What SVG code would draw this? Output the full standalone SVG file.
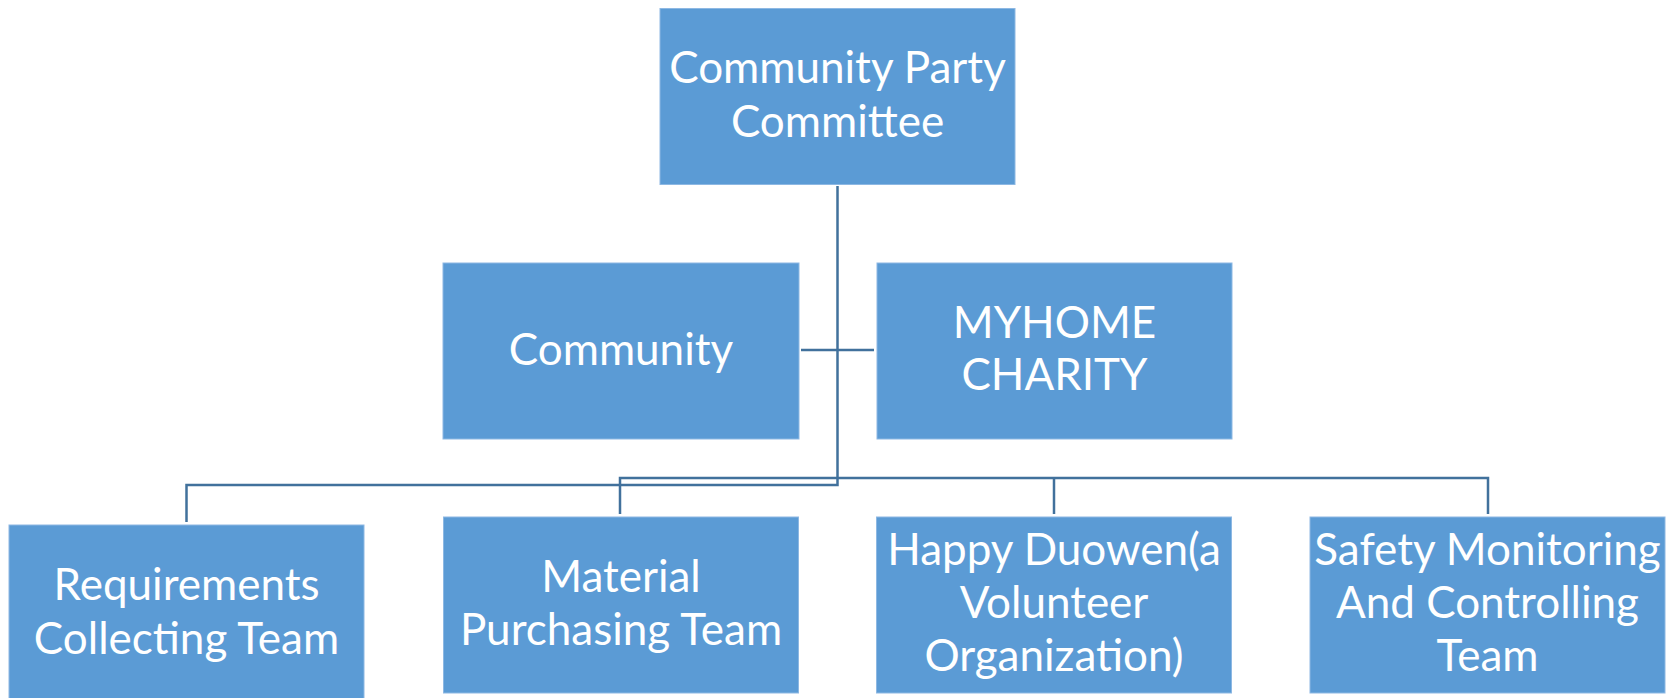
<svg xmlns="http://www.w3.org/2000/svg" width="1680" height="698" viewBox="0 0 1680 698">
<style>
.box{fill:#5B9BD5;stroke:#8DB8E3;stroke-width:1}
.t{fill:#FFFFFF;font-family:Lato,"Noto Sans","Liberation Sans",sans-serif;font-size:44px;text-anchor:middle}
.c{fill:none;stroke:#41719C;stroke-width:2.5}
</style>
<rect width="1680" height="698" fill="#FFFFFF"/>
<g id="connectors">
<polyline class="c" points="837.5,186 837.5,485 186.5,485 186.5,522"/>
<line class="c" x1="801" y1="350" x2="874" y2="350"/>
<polyline class="c" points="620,514 620,478 1488,478 1488,514"/>
<line class="c" x1="1054" y1="478" x2="1054" y2="514"/>
</g>
<g id="n-party">
<rect class="box" x="660" y="8.5" width="355" height="176"/>
<text class="t" x="837.5" y="83">Community Party</text>
<text class="t" x="837.5" y="137">Committee</text>
</g>
<g id="n-community">
<rect class="box" x="443" y="263" width="356" height="176"/>
<text class="t" x="621" y="365">Community</text>
</g>
<g id="n-myhome">
<rect class="box" x="877" y="263" width="355" height="176"/>
<text class="t" x="1054.5" y="338">MYHOME</text>
<text class="t" x="1054.5" y="390">CHARITY</text>
</g>
<g id="n-requirements">
<rect class="box" x="9" y="525" width="355" height="180"/>
<text class="t" x="186.5" y="600">Requirements</text>
<text class="t" x="186.5" y="654">Collecting Team</text>
</g>
<g id="n-material">
<rect class="box" x="443.5" y="517" width="355" height="176"/>
<text class="t" x="621" y="592">Material</text>
<text class="t" x="621" y="645">Purchasing Team</text>
</g>
<g id="n-happy">
<rect class="box" x="876.5" y="517" width="355" height="176"/>
<text class="t" x="1054" y="565">Happy Duowen(a</text>
<text class="t" x="1054" y="618">Volunteer</text>
<text class="t" x="1054" y="671">Organization)</text>
</g>
<g id="n-safety">
<rect class="box" x="1310" y="517" width="355" height="176"/>
<text class="t" x="1487.5" y="565">Safety Monitoring</text>
<text class="t" x="1487.5" y="618">And Controlling</text>
<text class="t" x="1487.5" y="671">Team</text>
</g>
</svg>
